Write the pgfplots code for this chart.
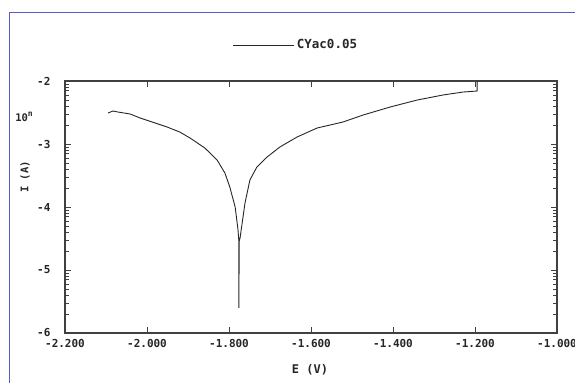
\documentclass[border=0pt]{standalone}
\usepackage{fontspec}
\setmainfont{DejaVu Sans Mono}
\usepackage{pgfplots}
\pgfplotsset{compat=1.18}
\begin{document}
\begin{tikzpicture}
\useasboundingbox (0pt,0pt) rectangle (575pt,383pt);
\draw[color={rgb,255:red,90;green,90;blue,205}, line width=1pt] (9pt,0pt) -- (9pt,370.5pt) -- (576pt,370.5pt);
\begin{axis}[
  at={(65pt,50pt)}, anchor=south west, scale only axis,
  width=492pt, height=252pt,
  xmin=-2.2, xmax=-1.0, ymin=-6, ymax=-2,
  xtick={-2.2,-2.0,-1.8,-1.6,-1.4,-1.2,-1.0},
  xticklabels={-2.200,-2.000,-1.800,-1.600,-1.400,-1.200,-1.000},
  ytick={-6,-5,-4,-3,-2},
  yticklabels={-6,-5,-4,-3,-2},
  minor ytick={-5.699,-5.523,-5.398,-5.301,-5.222,-5.155,-5.097,-5.046,
               -4.699,-4.523,-4.398,-4.301,-4.222,-4.155,-4.097,-4.046,
               -3.699,-3.523,-3.398,-3.301,-3.222,-3.155,-3.097,-3.046,
               -2.699,-2.523,-2.398,-2.301,-2.222,-2.155,-2.097,-2.046},
  tick align=inside,
  major tick length=6pt, minor tick length=4pt,
  axis line style={line width=1.1pt, color=black!75},
  every tick/.style={color=black!75, line width=0.8pt},
  x tick label style={font=\bfseries\fontsize{11}{11}\selectfont, yshift=-3pt, text=black!85},
  y tick label style={font=\bfseries\fontsize{11}{11}\selectfont, xshift=-11pt, text=black!85},
  legend style={draw=none, fill=none, inner sep=0pt,
    at={(axis description cs:0.341,1.143)}, anchor=west,
    font=\bfseries\fontsize{12.5}{12.5}\selectfont, text=black!85},
  legend image code/.code={\draw[#1] (0pt,0pt) -- (50pt,0pt); \path (0pt,0pt) -- (61pt,0pt);},
]
\addplot[black!85, line width=0.9pt] coordinates {
(-2.095,-2.508) (-2.083,-2.476) (-2.071,-2.492) (-2.041,-2.524)
(-2.017,-2.587) (-1.980,-2.667) (-1.951,-2.730) (-1.920,-2.810)
(-1.895,-2.905) (-1.859,-3.063) (-1.829,-3.254) (-1.810,-3.460)
(-1.798,-3.683) (-1.785,-4.000) (-1.778,-4.365) (-1.776,-4.540)
(-1.776,-5.600) (-1.775,-4.540)
(-1.773,-4.490) (-1.761,-3.937) (-1.749,-3.571) (-1.732,-3.365)
(-1.707,-3.206) (-1.676,-3.048) (-1.634,-2.889) (-1.585,-2.746)
(-1.522,-2.651) (-1.473,-2.540) (-1.407,-2.413) (-1.341,-2.302)
(-1.278,-2.222) (-1.229,-2.175) (-1.195,-2.159) (-1.195,-2.000)
};
\addlegendentry{CYac0.05}
\end{axis}
\node[font=\bfseries\fontsize{12}{12}\selectfont, text=black!85] at (310pt,13pt) {E (V)};
\node[rotate=90, font=\bfseries\fontsize{10.5}{10.5}\selectfont, text=black!85] at (25pt,206pt) {I (A)};
\node[font=\bfseries\fontsize{10.5}{10.5}\selectfont, text=black!85] at (24pt,266pt) {10\raisebox{5pt}{\fontsize{8}{8}\selectfont n}};
\end{tikzpicture}
\end{document}
